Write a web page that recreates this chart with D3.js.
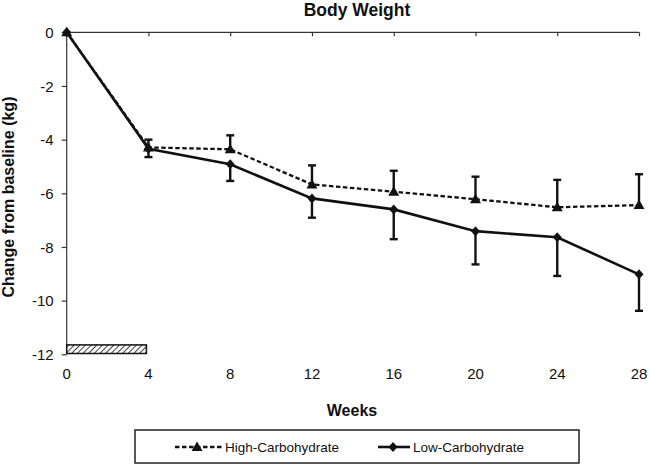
<!DOCTYPE html>
<html>
<head>
<meta charset="utf-8">
<script src="https://cdn.jsdelivr.net/npm/d3@7"></script>
<style>
  html, body { margin: 0; padding: 0; background: #fff; }
  svg { display: block; font-family: "Liberation Sans", Arial, sans-serif; }
</style>
</head>
<body>
<svg id="chart" width="650" height="465"></svg>
<script>
const weeks = [0, 4, 8, 12, 16, 20, 24, 28];
const highCarb = [0, -4.29, -4.36, -5.67, -5.94, -6.22, -6.52, -6.44];
const highCarbErr = [0, 0.29, 0.52, 0.71, 0.78, 0.84, 1.02, 1.15];
const lowCarb = [0, -4.34, -4.92, -6.19, -6.6, -7.41, -7.64, -9.02];
const lowCarbErr = [0, 0.31, 0.62, 0.72, 1.11, 1.24, 1.44, 1.36];
const xTicks = [0, 4, 8, 12, 16, 20, 24, 28];
const yTicks = [0, -2, -4, -6, -8, -10, -12];
const runInWeeks = [0, 3.9];
const runInBand = [-11.65, -11.97];
const seriesNames = ["High-Carbohydrate", "Low-Carbohydrate"];

const svg = d3.select("#chart");
const x = d3.scaleLinear().domain([0, 28]).range([66.7, 639]);
const y = d3.scaleLinear().domain([-12, 0]).range([354.3, 32.3]);

// hatch pattern
const defs = svg.append("defs");
const pat = defs.append("pattern").attr("id", "hatch").attr("patternUnits", "userSpaceOnUse")
  .attr("width", 4).attr("height", 4).attr("patternTransform", "rotate(45)");
pat.append("rect").attr("width", 4).attr("height", 4).attr("fill", "#fff");
pat.append("line").attr("x1", 0).attr("y1", 0).attr("x2", 0).attr("y2", 4)
  .attr("stroke", "#111").attr("stroke-width", 1.6);

// title
svg.append("text").attr("x", 357).attr("y", 16).attr("text-anchor", "middle")
  .attr("font-weight", "bold").attr("font-size", 17.5).attr("fill", "#111").text("Body Weight");

// y axis
const yAxis = svg.append("g").attr("transform", `translate(${x(0)},0)`)
  .call(d3.axisLeft(y).tickValues(yTicks).tickSize(5).tickFormat(d3.format("d")));
yAxis.select(".domain").attr("stroke", "#333").attr("stroke-width", 1.2).attr("d", `M0,${y(0)}V${y(-12)}`);
yAxis.selectAll(".tick line").attr("stroke", "#333").attr("stroke-width", 1.2);
yAxis.selectAll(".tick text").attr("font-size", 15).attr("fill", "#111")
  .attr("font-family", "Liberation Sans, Arial, sans-serif").attr("x", -13).attr("dy", "0.35em")
  .text(d => d === 0 ? "0" : "-" + Math.abs(d));

// x axis line at y=0, ticks downward
const xAxis = svg.append("g").attr("transform", `translate(0,${y(0)})`)
  .call(d3.axisBottom(x).tickValues(xTicks).tickSize(4).tickFormat(""));
xAxis.select(".domain").attr("stroke", "#333").attr("stroke-width", 1.2).attr("d", `M${x(0)},0H${x(28)}`);
xAxis.selectAll(".tick line").attr("stroke", "#333").attr("stroke-width", 1.2);
xAxis.selectAll(".tick").filter(d => d === 0).remove();

// x tick labels at bottom
svg.append("g").selectAll("text").data(xTicks).join("text")
  .attr("x", d => x(d)).attr("y", 379).attr("text-anchor", "middle")
  .attr("font-size", 15).attr("fill", "#111").text(d => d);

// axis titles
svg.append("text").attr("x", 352).attr("y", 416).attr("text-anchor", "middle")
  .attr("font-weight", "bold").attr("font-size", 16).attr("fill", "#111").text("Weeks");
svg.append("text").attr("transform", "translate(14,197) rotate(-90)").attr("text-anchor", "middle")
  .attr("font-weight", "bold").attr("font-size", 16).attr("fill", "#111").text("Change from baseline (kg)");

// run-in bar
svg.append("rect").attr("x", x(runInWeeks[0])).attr("y", y(runInBand[0]))
  .attr("width", x(runInWeeks[1]) - x(runInWeeks[0])).attr("height", y(runInBand[1]) - y(runInBand[0]))
  .attr("fill", "url(#hatch)").attr("stroke", "#111").attr("stroke-width", 1.5);

const line = d3.line().x(d => x(d[0])).y(d => y(d[1]));
const hiData = weeks.map((w, i) => [w, highCarb[i], highCarbErr[i]]);
const loData = weeks.map((w, i) => [w, lowCarb[i], lowCarbErr[i]]);

function errBars(data, dir) {
  const g = svg.append("g").attr("stroke", "#111").attr("stroke-width", 2.4).attr("fill", "none");
  data.filter(d => d[2] > 0).forEach(d => {
    const y0 = y(d[1]), y1 = y(d[1] + dir * d[2]);
    g.append("line").attr("x1", x(d[0])).attr("x2", x(d[0])).attr("y1", y0).attr("y2", y1);
    g.append("line").attr("x1", x(d[0]) - 4).attr("x2", x(d[0]) + 4).attr("y1", y1).attr("y2", y1);
  });
}
errBars(hiData, 1);
errBars(loData, -1);

// high carb line (dashed)
svg.append("path").datum(hiData).attr("d", line).attr("fill", "none")
  .attr("stroke", "#111").attr("stroke-width", 2.3).attr("stroke-dasharray", "4.5,2.5");
// low carb line (solid)
svg.append("path").datum(loData).attr("d", line).attr("fill", "none")
  .attr("stroke", "#111").attr("stroke-width", 2.6);

const tri = (cx, cy) => `M${cx},${cy - 5.5}L${cx + 5.5},${cy + 4}L${cx - 5.5},${cy + 4}Z`;
const dia = (cx, cy) => `M${cx},${cy - 5}L${cx + 4.5},${cy}L${cx},${cy + 5}L${cx - 4.5},${cy}Z`;

svg.append("g").selectAll("path").data(hiData).join("path")
  .attr("d", d => tri(x(d[0]), y(d[1]))).attr("fill", "#111");
svg.append("g").selectAll("path").data(loData).join("path")
  .attr("d", d => dia(x(d[0]), y(d[1]))).attr("fill", "#111");

// legend
const lg = svg.append("g");
lg.append("rect").attr("x", 135).attr("y", 430).attr("width", 444).attr("height", 33)
  .attr("fill", "#fff").attr("stroke", "#222").attr("stroke-width", 1.5);
lg.append("line").attr("x1", 175).attr("x2", 222).attr("y1", 447).attr("y2", 447)
  .attr("stroke", "#111").attr("stroke-width", 2.3).attr("stroke-dasharray", "4.5,2.5");
lg.append("path").attr("d", tri(197, 447)).attr("fill", "#111");
lg.append("text").attr("x", 225).attr("y", 452).attr("font-size", 13.5).attr("fill", "#111").text(seriesNames[0]);
lg.append("line").attr("x1", 378).attr("x2", 410).attr("y1", 447).attr("y2", 447)
  .attr("stroke", "#111").attr("stroke-width", 2.6);
lg.append("path").attr("d", dia(393, 447)).attr("fill", "#111");
lg.append("text").attr("x", 413).attr("y", 452).attr("font-size", 13.5).attr("fill", "#111").text(seriesNames[1]);
</script>
</body>
</html>
